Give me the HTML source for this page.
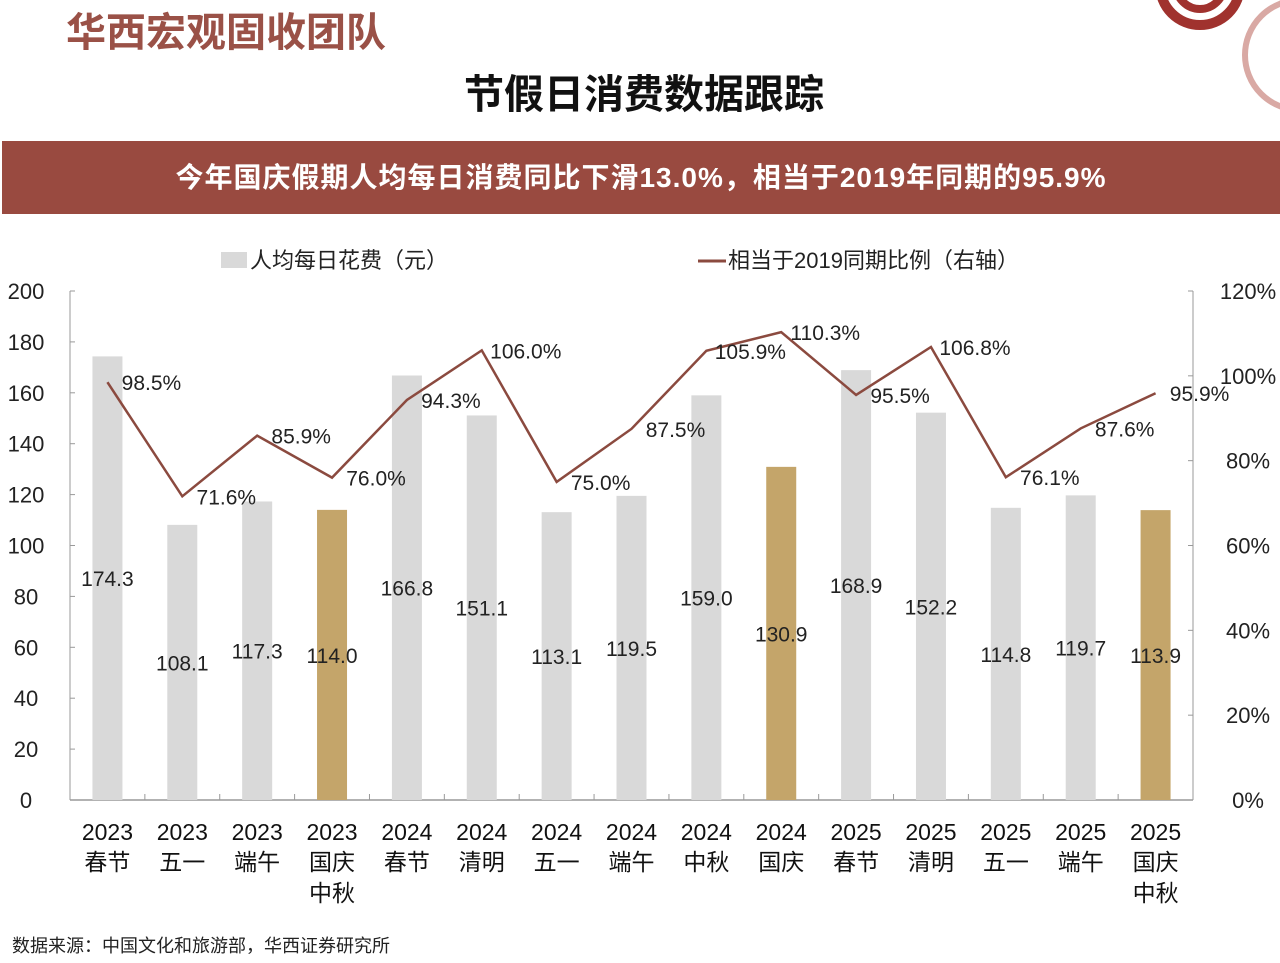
<!DOCTYPE html>
<html><head><meta charset="utf-8">
<style>
body{margin:0;width:1280px;height:963px;background:#fff;overflow:hidden;font-family:"Liberation Sans","Noto Sans CJK SC",sans-serif;position:relative}
.abs{position:absolute}
</style></head><body>
<div class="abs" style="left:66px;top:0px;font-size:40px;font-weight:bold;color:#9a5147;letter-spacing:0px">华西宏观固收团队</div>
<div class="abs" style="left:0;width:1288px;top:62px;text-align:center;font-size:40px;font-weight:bold;color:#111">节假日消费数据跟踪</div>
<svg class="abs" style="left:1140px;top:0" width="140" height="110"><circle cx="60" cy="-15" r="40" fill="none" stroke="#a0322e" stroke-width="10"/><circle cx="60" cy="-15" r="24" fill="none" stroke="#a0322e" stroke-width="8"/><circle cx="160" cy="55" r="55" fill="none" stroke="#d9a9a4" stroke-width="6"/></svg>
<div class="abs" style="left:2px;top:141px;width:1278px;height:73px;background:#994a40;color:#fff;font-size:28px;font-weight:bold;line-height:73px;text-align:center;letter-spacing:1px">今年国庆假期人均每日消费同比下滑13.0%，相当于2019年同期的95.9%</div>
<svg class="abs" style="left:0;top:0" width="1280" height="963" id="chart"></svg>
<div class="abs" style="left:12px;top:932px;font-size:18px;color:#222">数据来源：中国文化和旅游部，华西证券研究所</div>
<script>
const years=["2023","2023","2023","2023","2024","2024","2024","2024","2024","2024","2025","2025","2025","2025","2025"];
const holidays=["春节","五一","端午","国庆\n中秋","春节","清明","五一","端午","中秋","国庆","春节","清明","五一","端午","国庆\n中秋"];
const spend=[174.3,108.1,117.3,114.0,166.8,151.1,113.1,119.5,159.0,130.9,168.9,152.2,114.8,119.7,113.9];
const ratio=[98.5,71.6,85.9,76.0,94.3,106.0,75.0,87.5,105.9,110.3,95.5,106.8,76.1,87.6,95.9];
const highlight=[false,false,false,true,false,false,false,false,false,true,false,false,false,false,true];
const leftTicks=[0,20,40,60,80,100,120,140,160,180,200];
const rightTicks=[0,20,40,60,80,100,120];
const NS="http://www.w3.org/2000/svg",svg=document.getElementById('chart');
const X0=70,X1=1193,Y0=800,Y1=291;
const slot=(X1-X0)/spend.length;
const xc=i=>X0+slot*(i+0.5);
const yL=v=>Y0-(v/200)*(Y0-Y1);
const yR=v=>Y0-(v/120)*(Y0-Y1);
function el(t,a,txt){const e=document.createElementNS(NS,t);for(const k in a)e.setAttribute(k,a[k]);if(txt!=null)e.textContent=txt;svg.appendChild(e);return e;}
let e=el('rect',{x:221,y:252,width:26,height:16,fill:'#d9d9d9'});

e=el('text',{x:250,y:268,'font-size':22,fill:'#222'},'人均每日花费（元）');

e=el('line',{x1:698,x2:726,y1:261,y2:261,stroke:'#8b4a3f','stroke-width':3});

e=el('text',{x:728,y:268,'font-size':22,fill:'#222'},'相当于2019同期比例（右轴）');

e=el('line',{x1:X0,x2:X1,y1:Y0,y2:Y0,stroke:'#999','stroke-width':1.5});

el('line',{x1:X0,x2:X0,y1:Y1,y2:Y0,stroke:'#999'});
el('line',{x1:X1,x2:X1,y1:Y1,y2:Y0,stroke:'#999'});
leftTicks.forEach(v=>{el('line',{x1:X0,x2:X0+5,y1:yL(v),y2:yL(v),stroke:'#999'});
 const t=el('text',{x:26,y:yL(v)+8,'font-size':22,'text-anchor':'middle',fill:'#222'},v);
 });
rightTicks.forEach(v=>{el('line',{x1:X1-5,x2:X1,y1:yR(v),y2:yR(v),stroke:'#999'});
 const t=el('text',{x:1248,y:yR(v)+8,'font-size':22,'text-anchor':'middle',fill:'#222'},v+'%');
 });
for(let i=1;i<spend.length;i++)el('line',{x1:X0+slot*i,x2:X0+slot*i,y1:Y0-6,y2:Y0,stroke:'#999'});
spend.forEach((v,i)=>{
 const b=el('rect',{x:xc(i)-15,y:yL(v),width:30,height:Y0-yL(v),fill:highlight[i]?'#c4a56a':'#d9d9d9'});
 
 const t=el('text',{x:xc(i),y:yL(v/2)+8,'font-size':21,'text-anchor':'middle',fill:'#222'},v.toFixed(1));
 
});
const ln=el('polyline',{points:ratio.map((v,i)=>xc(i)+','+yR(v)).join(' '),fill:'none',stroke:'#8b4a3f','stroke-width':2.5});

ratio.forEach((v,i)=>{
 const t=el('text',{x:xc(i)+44,y:yR(v)+8,'font-size':21,'text-anchor':'middle',fill:'#222'},v.toFixed(1)+'%');
 
});
years.forEach((y,i)=>{
 const t=el('text',{x:xc(i),y:840,'font-size':23,'text-anchor':'middle',fill:'#111'},y);
 
 holidays[i].split('\n').forEach((h,j)=>{
  const u=el('text',{x:xc(i),y:870+j*31,'font-size':23,'text-anchor':'middle',fill:'#111'},h);
  
 });
});
</script>
</body></html>
